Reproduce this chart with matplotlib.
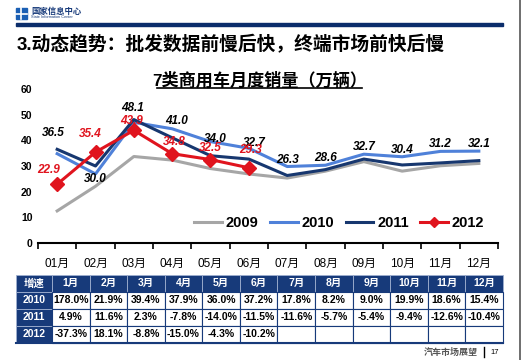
import matplotlib
matplotlib.use("Agg")
import matplotlib.pyplot as plt
from matplotlib.patches import Rectangle
import numpy as np

plt.rcParams['font.family'] = ['Liberation Sans', 'Noto Sans CJK SC', 'DejaVu Sans']

months = ["01月", "02月", "03月", "04月", "05月", "06月",
          "07月", "08月", "09月", "10月", "11月", "12月"]
s2009 = [12.5, 22.1, 33.7, 32.3, 29.0, 26.9, 25.3, 28.0, 31.7, 28.0, 30.1, 31.0]
s2010 = [34.8, 26.9, 47.0, 44.5, 39.5, 36.9, 29.8, 30.3, 34.6, 33.6, 35.7, 35.8]
s2011 = [36.5, 30.0, 48.1, 41.0, 34.0, 32.7, 26.3, 28.6, 32.7, 30.4, 31.2, 32.1]
s2012 = [22.9, 35.4, 43.9, 34.8, 32.5, 29.3]

tbl_cols = ["1月", "2月", "3月", "4月", "5月", "6月",
            "7月", "8月", "9月", "10月", "11月", "12月"]
tbl_rows = ["2010", "2011", "2012"]
g2010 = ["178.0%", "21.9%", "39.4%", "37.9%", "36.0%", "37.2%",
         "17.8%", "8.2%", "9.0%", "19.9%", "18.6%", "15.4%"]
g2011 = ["4.9%", "11.6%", "2.3%", "-7.8%", "-14.0%", "-11.5%",
         "-11.6%", "-5.7%", "-5.4%", "-9.4%", "-12.6%", "-10.4%"]
g2012 = ["-37.3%", "18.1%", "-8.8%", "-15.0%", "-4.3%", "-10.2%",
         "", "", "", "", "", ""]

W, H = 521, 360
navy = "#173a7a"
fig = plt.figure(figsize=(W / 100, H / 100), dpi=100)

# slide background layer in pixel coordinates
bg = fig.add_axes([0, 0, 1, 1])
bg.set_xlim(0, W)
bg.set_ylim(H, 0)
bg.axis("off")

# logo
bg.add_patch(Rectangle((16, 8), 11, 11, color="#1a5fb4"))
bg.plot([16, 27], [13.5, 13.5], color="white", lw=1.2)
bg.plot([21, 21], [8, 19], color="white", lw=1.2)
bg.text(31, 11.5, "国家信息中心", fontsize=6, fontweight="bold", color=navy, va="center")
bg.text(31, 17.5, "State Information Center", fontsize=2.8, color=navy, va="center")
bg.add_patch(Rectangle((16, 22.5), 487, 3.5, color="#0b2d6b"))
bg.text(17, 45, "3.动态趋势：批发数据前慢后快，终端市场前快后慢", fontsize=13.5,
        fontweight="heavy", color="black", va="center", ha="left")
# right frame line
bg.plot([519.5, 519.5], [0, H], color="#555555", lw=1.2)

# chart title
bg.text(260, 80, "7类商用车月度销量（万辆）", fontsize=12.3, fontweight="heavy",
        ha="center", va="center")
bg.plot([157, 362], [87.5, 87.5], color="black", lw=1.2)

# main chart
ax = fig.add_axes([38 / W, 1 - 243 / H, (498 - 38) / W, (243 - 89) / H])
x = np.arange(12)
ax.plot(x, s2009, color="#a6a6a6", lw=2.2, label="2009")
ax.plot(x, s2010, color="#4f81d9", lw=2.2, label="2010")
ax.plot(x, s2011, color="#17376f", lw=2.2, label="2011")
ax.plot(x[:6], s2012, color="#e0141e", lw=2.2, marker="D", ms=7, label="2012")

ax.set_xlim(-0.5, 11.5)
ax.set_ylim(0, 60)
ax.set_yticks(range(0, 61, 10))
ax.set_yticklabels([str(v) for v in range(0, 61, 10)], fontsize=7.5, fontweight="bold")
ax.tick_params(axis="y", length=0, pad=4)
ax.set_xticks(x)
ax.set_xticklabels(months, fontsize=8.5)
ax.set_xticks(np.arange(-0.5, 12, 1), minor=True)
ax.tick_params(axis="x", which="major", length=0, pad=11)
ax.tick_params(axis="x", which="minor", length=4, width=1.2, direction="out")
for s in ["top", "right", "left"]:
    ax.spines[s].set_visible(False)
ax.spines["bottom"].set_linewidth(1.5)
ax.patch.set_alpha(0)

# labels for 2011 (offsets in pixels, dx, dy)
off11 = [(-4, 16), (0, -13), (-1, 12), (4, 8), (5, 3), (5, 5),
         (0, 7), (0, 7), (0, 7), (0, 7), (0, 7), (0, 7)]
base11 = [max(a, b) if i > 1 else b for i, (a, b) in enumerate(zip(s2010, s2011))]
for i, v in enumerate(s2011):
    dx, dy = off11[i]
    ax.annotate(f"{v:.1f}", (i, base11[i]), xytext=(dx * 0.72, dy * 0.72),
                textcoords="offset points", ha="center", va="center",
                fontsize=8.5, fontstyle="italic", fontweight="bold", color="black")
off12 = [(-9, 14), (-5, 18), (-2, 9), (2, 12), (0, 12), (2, 18)]
for i, v in enumerate(s2012):
    dx, dy = off12[i]
    ax.annotate(f"{v:.1f}", (i, v), xytext=(dx * 0.72, dy * 0.72),
                textcoords="offset points", ha="center", va="center",
                fontsize=8.5, fontstyle="italic", fontweight="bold", color="#e0141e")

leg = ax.legend(ncol=4, loc="center", bbox_to_anchor=(0.655, 0.13), frameon=False,
                prop={"size": 10.5, "weight": "bold"}, handlelength=1.9,
                columnspacing=0.8, handletextpad=0.25, borderaxespad=0)
for h in leg.legend_handles:
    h.set_markersize(5)

# growth table
tx0, tw0, cw = 16, 36, 37.58
ty0, rh = 275, 16.9
cell_rows = [tbl_cols, g2010, g2011, g2012]
for r in range(4):
    y0 = ty0 + r * rh
    hdr = tbl_rows[r - 1] if r > 0 else "增速"
    bg.add_patch(Rectangle((tx0, y0), tw0, rh, facecolor=navy, edgecolor="#9fb0d0", lw=0.6))
    bg.text(tx0 + tw0 / 2, y0 + rh / 2, hdr, color="white", fontsize=7.5,
            fontweight="bold", ha="center", va="center")
    for c in range(12):
        cx = tx0 + tw0 + c * cw
        if r == 0:
            bg.add_patch(Rectangle((cx, y0), cw, rh, facecolor=navy, edgecolor="#9fb0d0", lw=0.6))
            col = "white"
        else:
            bg.add_patch(Rectangle((cx, y0), cw, rh, facecolor="white", edgecolor=navy, lw=0.8))
            col = "black"
        bg.text(cx + cw / 2, y0 + rh / 2, cell_rows[r][c], color=col, fontsize=7.5,
                fontweight="bold", ha="center", va="center")
bg.plot([tx0, tx0 + tw0 + 12 * cw], [ty0 + 4 * rh, ty0 + 4 * rh], color=navy, lw=1.5)

# footer
bg.text(478, 352, "汽车市场展望", fontsize=6.5, fontweight="bold", color="#555555",
        ha="right", va="center")
bg.plot([484, 484], [347, 357], color="black", lw=1)
bg.text(495, 352, "17", fontsize=5.5, color="black", ha="center", va="center")

fig.savefig("out.png", dpi=100)
